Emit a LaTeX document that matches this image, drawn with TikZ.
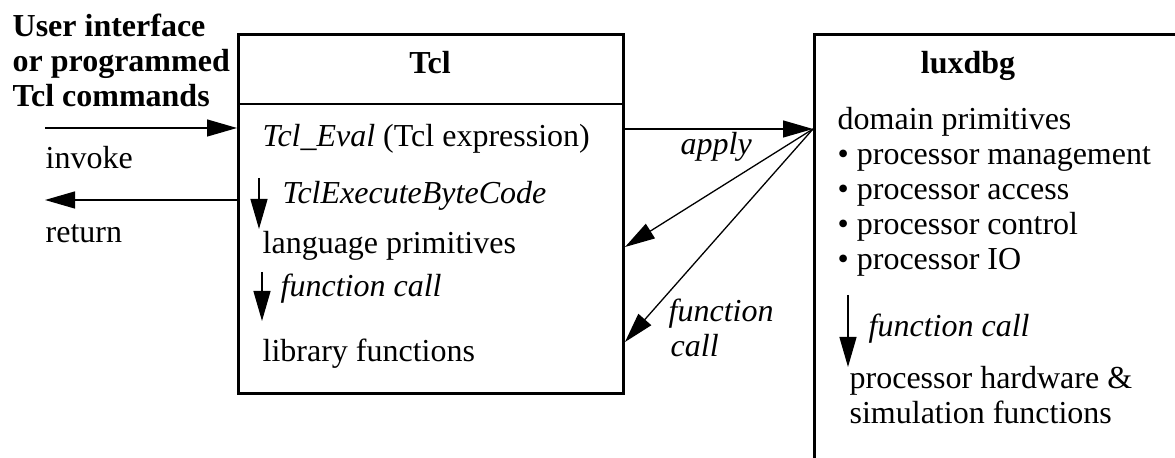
\documentclass[tikz,border=0pt]{standalone}
\usepackage{fontspec}
\setmainfont{Liberation Serif}
\usetikzlibrary{arrows.meta}

\begin{document}
\begin{tikzpicture}[x=0.5pt,y=-0.5pt,line width=0.65pt]
        \tikzstyle{box}=[draw=black,line width=1.5pt,inner sep=0pt,anchor=north west]
        \tikzstyle{txt}=[anchor=base west,inner sep=0pt,font=\fontsize{16}{19}\selectfont]
        \tikzstyle{itxt}=[txt,font=\fontsize{16}{19}\selectfont\itshape]
        \tikzstyle{btxt}=[txt,font=\fontsize{16}{19}\selectfont\bfseries]
        \tikzstyle{flow}=[-{Triangle[length=15pt,width=8.5pt]}]

        \useasboundingbox (0,0) rectangle (1175,458);
        \clip (0,0) rectangle (1175,458);

        % the two blocks
        \node[box,minimum width=192.5pt,minimum height=179.5pt] (tcl) at (237,33) {};
        \node[box,minimum width=200pt,minimum height=232pt] (lux) at (813,33) {};
        \draw[line width=1pt] (tcl.west |- 0,104) -- (tcl.east |- 0,104);
        \node[btxt,anchor=base] (tcl-title) at (430,74) {Tcl};
        \node[btxt,anchor=base] (lux-title) at (968,74) {luxdbg};

        % caller on the left
        \foreach \txt/\y in {User interface/37, or programmed/72, Tcl commands/107}
                \node[btxt] (user-\y) at (12,\y) {\txt};
        \coordinate (invoke-from) at (45,128);
        \coordinate (return-to) at (45,200);
        \draw[flow] (invoke-from) -- (tcl.west |- invoke-from);
        \draw[flow] (tcl.west |- return-to) -- (return-to);
        \node[txt] (invoke) at (45,169) {invoke};
        \node[txt] (return) at (45,243) {return};

        % inside Tcl
        \node[txt] (eval) at (262,147) {\textit{Tcl\_Eval} (Tcl expression)};
        \node[itxt] (bytecode) at (282,204) {TclExecuteByteCode};
        \node[txt] (langprim) at (262,254) {language primitives};
        \node[itxt] (tcl-call) at (280,297) {function call};
        \node[txt] (libfunc) at (262,362) {library functions};
        \coordinate (down1-a) at (259,178);
        \coordinate (down1-b) at (259,229);
        \coordinate (down2-a) at (262,272);
        \coordinate (down2-b) at (262,321);
        \draw[flow] (down1-a) -- (down1-b);
        \draw[flow] (down2-a) -- (down2-b);

        % between the blocks
        \coordinate (hub) at (lux.west |- 0,129);
        \draw[flow] (tcl.east |- hub) -- (hub);
        \foreach \y in {247, 342}
                \draw[flow] (hub) -- (tcl.east |- 0,\y);
        \node[itxt] (apply) at (680,155) {apply};
        \node[itxt] (between-1) at (668,322) {function};
        \node[itxt] (between-2) at (670,357) {call};

        % inside luxdbg
        \node[txt] (domain) at (837,130) {domain primitives};
        \foreach \item/\y in {management/165, access/200, control/235, IO/270}
                \node[txt] (item-\item) at (837,\y) {• processor \item};
        \coordinate (down3-a) at (848,295);
        \coordinate (down3-b) at (848,367);
        \draw[flow] (down3-a) -- (down3-b);
        \node[itxt] (lux-call) at (868,337) {function call};
        \node[txt] (hardware) at (849,389) {processor hardware \&};
        \node[txt] (simulation) at (849,424) {simulation functions};
\end{tikzpicture}
\end{document}
